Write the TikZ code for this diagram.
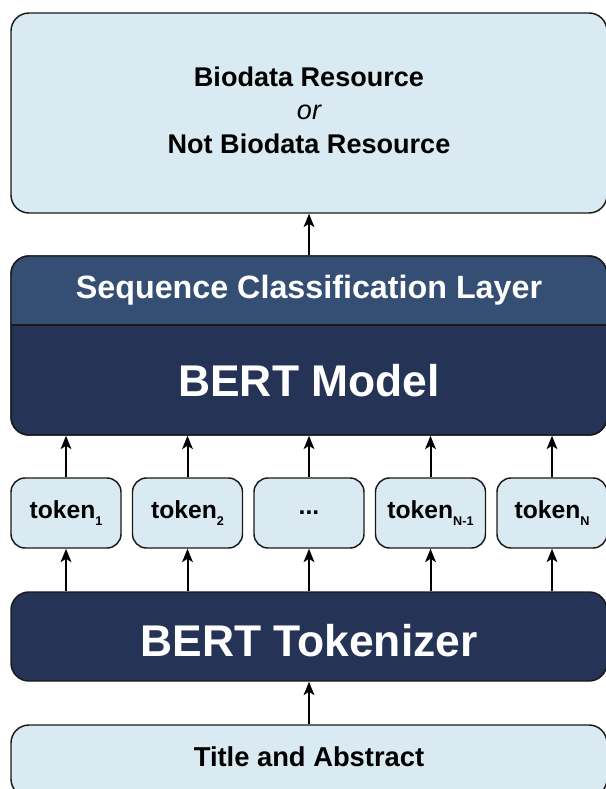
\documentclass[tikz,border=0pt]{standalone}
\usepackage{fontspec}
\setmainfont{Liberation Sans}
\usetikzlibrary{arrows.meta}
\definecolor{lightbox}{HTML}{DAEAF3}
\definecolor{darkbox}{HTML}{253356}
\definecolor{midbox}{HTML}{344E74}
\definecolor{edge}{HTML}{1A1A1A}
\tikzset{
  lbox/.style={draw=edge, line width=1.1pt, fill=lightbox, rounded corners=#1, inner sep=0pt},
  lbox/.default=13.5pt,
  dbox/.style={draw=edge, line width=1.1pt, fill=darkbox, rounded corners=13.5pt, inner sep=0pt},
  arr/.style={-{Stealth[length=10pt,width=8pt,inset=2.5pt]}, line width=1.5pt, draw=black},
  tok/.style={lbox=10.5pt, minimum width=82.5pt, minimum height=52.5pt, font=\bfseries\fontsize{18.5}{22}\selectfont},
  wtext/.style={text=white, inner sep=0pt, font=\bfseries},
}
\newcommand{\tsub}[1]{\raisebox{-0.55ex}{\fontsize{9.5}{10}\selectfont #1}}
\begin{document}
\begin{tikzpicture}[x=0.75pt, y=-0.75pt]
\useasboundingbox (0,0) rectangle (606,789);
% top output box
\node[lbox, minimum width=447pt, minimum height=150pt] (out) at (309,113) {};
\node[inner sep=0pt, align=center, font=\bfseries\fontsize{20.3}{25}\selectfont] (outtxt) at (309,110)
  {Biodata Resource\\ {\mdseries\itshape or}\\ Not Biodata Resource};
% BERT model block
\node[dbox, minimum width=447pt, minimum height=134.25pt] (bert) at (309,345.5) {};
\begin{scope}
  \clip[rounded corners=13.5pt] (11,256) rectangle (607,435);
  \fill[midbox] (11,256) rectangle (607,325);
\end{scope}
\draw[edge, line width=1.1pt, rounded corners=13.5pt] (11,256) rectangle (607,435);
\draw[edge, line width=1.1pt] (11,325) -- (607,325);
\node[wtext, font=\bfseries\fontsize{24.2}{28}\selectfont] (seq) at (309,290.5) {Sequence Classification Layer};
\node[wtext, font=\bfseries\fontsize{33.3}{38}\selectfont] (model) at (309,381) {BERT Model};
% tokens
\node[tok] (t1) at (66,513) {token\tsub{1}};
\node[tok] (t2) at (187.5,513) {token\tsub{2}};
\node[tok] (t3) at (309,513) {...};
\node[tok] (t4) at (430.5,513) {token\tsub{N-1}};
\node[tok] (t5) at (552,513) {token\tsub{N}};
% tokenizer
\node[dbox, minimum width=447pt, minimum height=66.75pt] (tokz) at (309,636.5) {};
\node[wtext, font=\bfseries\fontsize{33.3}{38}\selectfont] (tokztxt) at (309,641) {BERT Tokenizer};
% input
\node[lbox, minimum width=447pt, minimum height=54pt] (inp) at (309,761) {};
\node[inner sep=0pt, font=\bfseries\fontsize{20.5}{24}\selectfont] (inptxt) at (309,757) {Title and Abstract};
% arrows
\draw[arr] (inp.north) -- (tokz.south);
\foreach \t in {t1,t2,t3,t4,t5}{
  \draw[arr] (\t.south |- tokz.north) -- (\t.south);
  \draw[arr] (\t.north) -- (\t.north |- bert.south);
}
\draw[arr] (bert.north) -- (out.south);
\end{tikzpicture}
\end{document}
